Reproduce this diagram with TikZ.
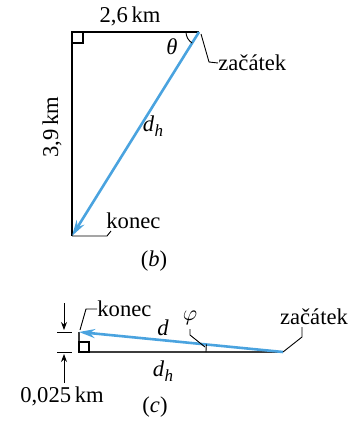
\documentclass[tikz,border=0pt]{standalone}
\usepackage{fontspec}
\setmainfont{Liberation Serif}
\usetikzlibrary{arrows.meta,calc}
\definecolor{vecblue}{RGB}{74,163,223}
\definecolor{basegray}{RGB}{60,60,60}
\newcommand{\dhlabel}{\textit{d}\kern0.3pt\raisebox{-0.25em}{\fontsize{8.5}{9}\selectfont\textit{h}}}
\begin{document}
\begin{tikzpicture}[x=0.5pt,y=-0.5pt,
  every node/.style={font=\fontsize{11.3}{13}\selectfont, inner sep=0pt},
  edge/.style={line width=0.7pt, black},
  vec/.style={line width=1.3pt, vecblue, -{Stealth[length=8pt,width=4.5pt]}},
  leader/.style={line width=0.45pt, black},
  dimarrow/.style={line width=0.45pt, -{Stealth[length=4pt,width=3pt]}}]
\useasboundingbox (0,0) rectangle (357,421);
% ---------- (b)
\coordinate (A) at (72,32);
\coordinate (B) at (199,32);
\coordinate (C) at (72,236);
\draw[edge] (B) -- (A) -- (C);
\draw[line width=0.6pt] (A) rectangle ++(11,11);
\draw[vec] (B) -- (C);
\draw[leader] ([shift={(180:13)}]B) arc[start angle=180,end angle=122,radius=13];
\node (len26) at (130,16) {2,6\,km};
\node[rotate=90] (len39) at (52,127) {3,9\,km};
\node (theta) at (172,47) {\textit{θ}};
\node (dh1) at (153,126) {\dhlabel};
\node[anchor=west] (zac1) at (218,63) {začátek};
\coordinate (zb1) at (201,34);
\coordinate (zb2) at (209,62);
\draw[leader] (zb1) -- (zb2) -- (zac1.west);
\node[anchor=west] (kon1) at (106,221) {konec};
\coordinate (kb1) at (107,236);
\coordinate (kb2) at (111,231);
\draw[leader] (C) -- (kb1) -- (kb2);
\node (lb) at (154,261) {(\textit{b})};
% ---------- (c)
\coordinate (S) at (283,352);
\coordinate (O) at (79,352);
\coordinate (E) at (79,332);
\draw[line width=0.8pt, basegray] (S) -- (O) -- (E);
\draw[line width=0.6pt] (O) rectangle ++(10,-10);
\draw[vec] (S) -- (E);
\coordinate (t1a) at (57,332);
\coordinate (t1b) at (72,332);
\coordinate (t2a) at (57,352);
\coordinate (t2b) at (72,352);
\draw[leader] (t1a) -- (t1b);
\draw[leader] (t2a) -- (t2b);
\coordinate (da1) at (64,303);
\coordinate (da2) at (64,330);
\coordinate (db1) at (64,383);
\coordinate (db2) at (64,354);
\draw[dimarrow] (da1) -- (da2);
\draw[dimarrow] (db1) -- (db2);
\node (v025) at (62,396) {0,025\,km};
\node[anchor=west] (kon2) at (97,309) {konec};
\coordinate (kc1) at (80,330);
\coordinate (kc2) at (86,309);
\draw[leader] (kc1) -- (kc2) -- (kon2.west);
\node (d) at (163,328) {\textit{d}};
\node (dh2) at (163,371) {\dhlabel};
\node (lc) at (155,407) {(\textit{c})};
\draw[leader] ([shift={(180:77)}]S) arc[start angle=180,end angle=185.6,radius=77];
\node (phi) at (190,318) {$\varphi$};
\coordinate (pc1) at (205,347);
\coordinate (pc2) at (190,335);
\coordinate (pc3) at (190,329);
\draw[leader] (pc1) -- (pc2) -- (pc3);
\node (zac2) at (314,317) {začátek};
\coordinate (zc1) at (302,337);
\coordinate (zc2) at (302,327);
\draw[leader] (S) -- (zc1) -- (zc2);
\end{tikzpicture}
\end{document}
